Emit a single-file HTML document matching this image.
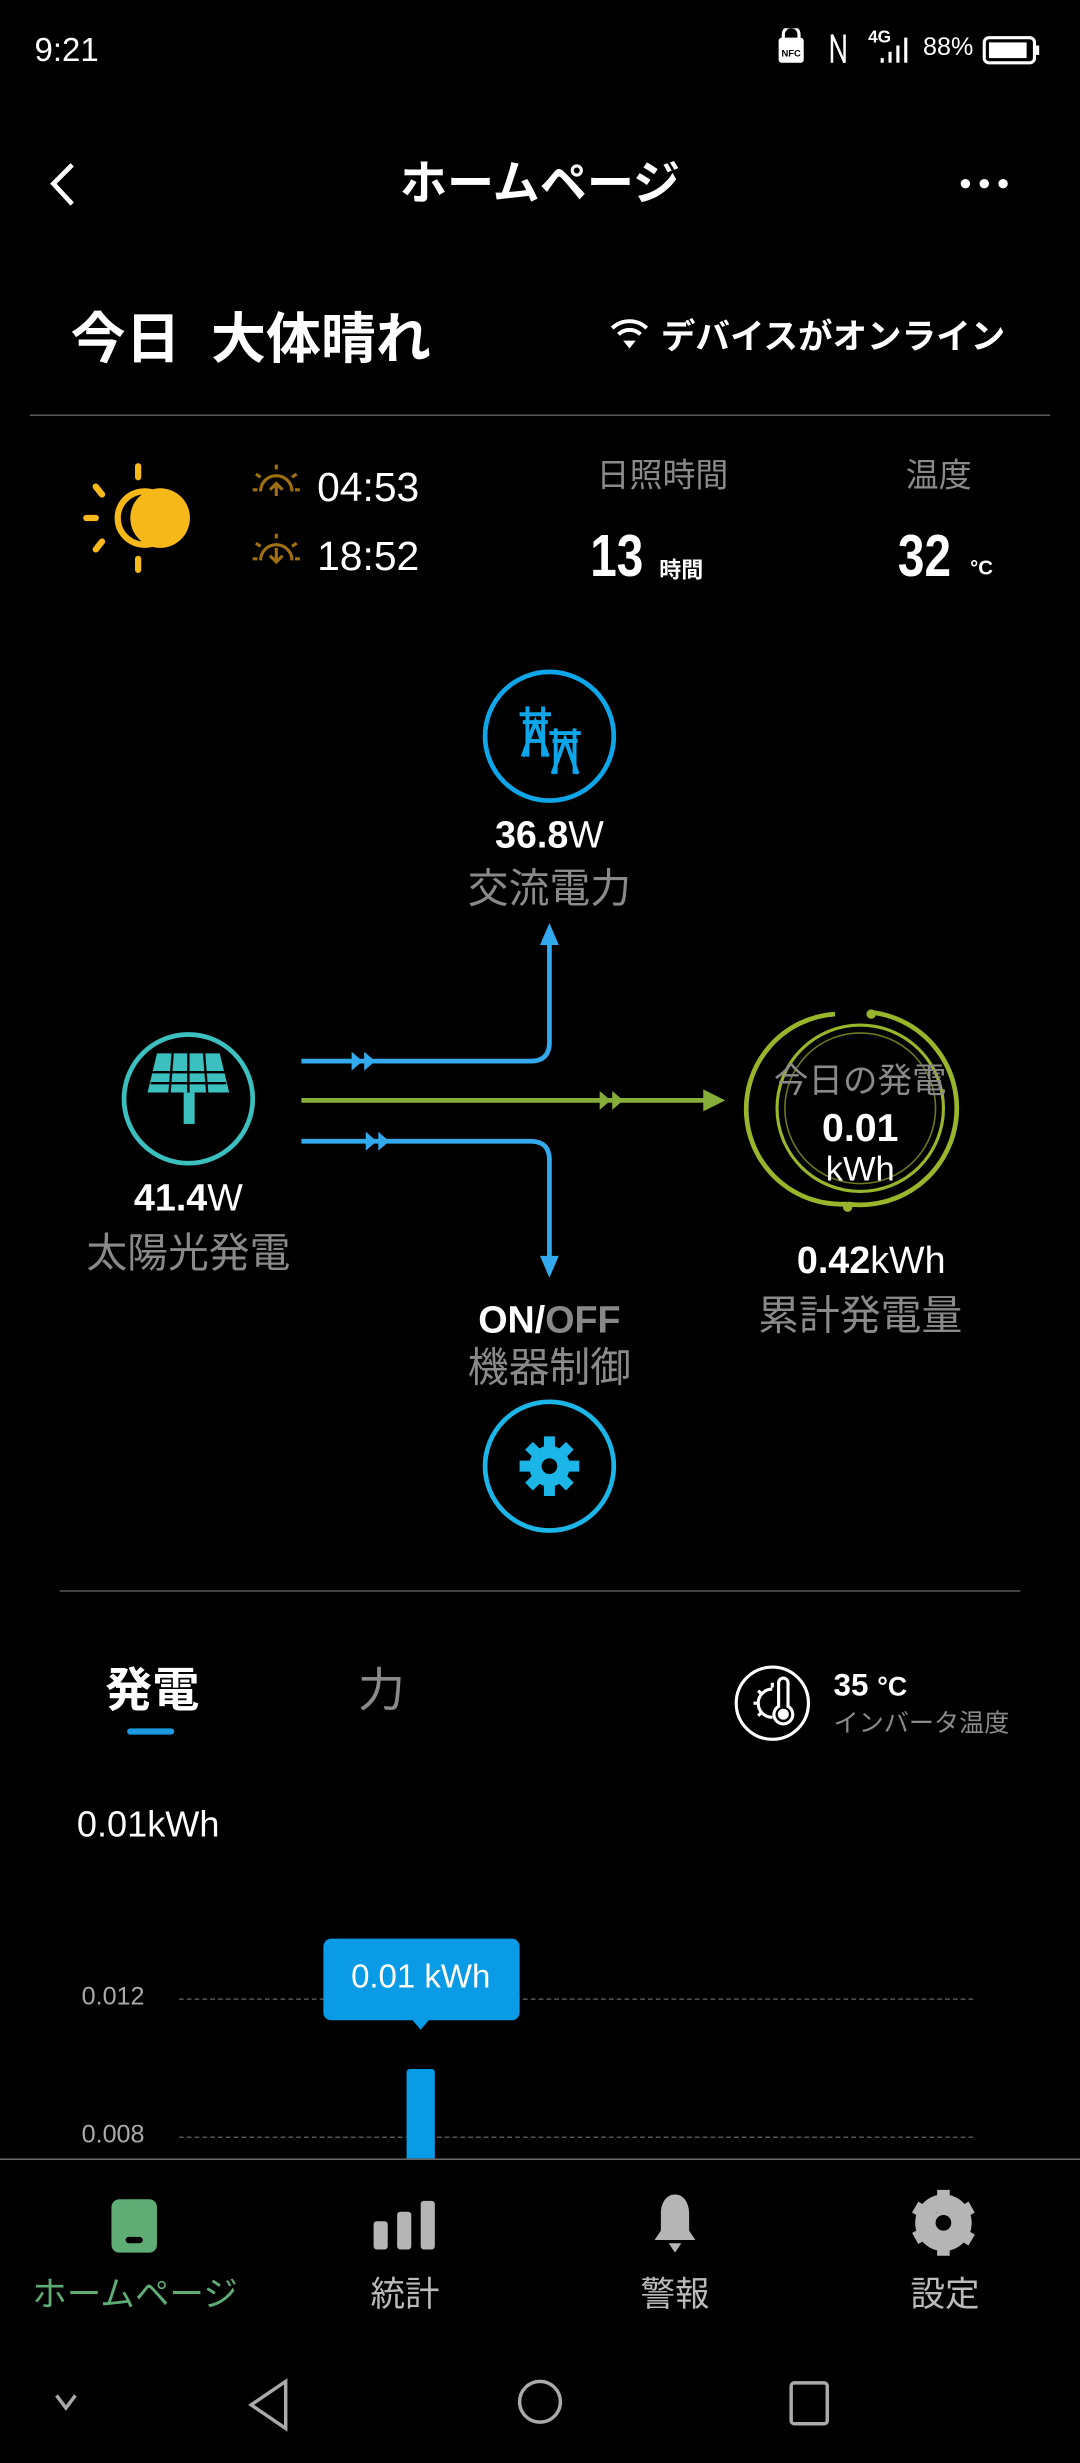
<!DOCTYPE html>
<html><head><meta charset="utf-8"><style>
html,body{margin:0;padding:0;background:#000;width:1080px;height:2460px;overflow:hidden}
#w{position:absolute;left:0;top:0;width:688px;height:1568px;transform:scale(1.56977);transform-origin:0 0;font-family:"Liberation Sans","Noto Sans CJK JP",sans-serif;color:#fff}
.a{position:absolute;white-space:nowrap;line-height:1}
.c{transform:translateX(-50%)}
.g{color:#8a8a8a}
.b{font-weight:bold}
</style></head><body><div id="w">
<div class="a" style="left:22px;top:22px;font-size:21px">9:21</div>
<div class="a" style="left:588px;top:23px;font-size:16px">88%</div>
<div class="a" style="left:553px;top:19px;font-size:11px;font-weight:bold">4G</div>
<svg class="a" style="left:494px;top:18px" width="170" height="28">
<rect x="2" y="6" width="16" height="16" rx="2" fill="#fff"/><path d="M5 7v-3a5 5 0 0 1 10 0v3" stroke="#fff" stroke-width="2" fill="none"/>
<text x="10" y="18" font-size="6" text-anchor="middle" font-family="Liberation Sans" font-weight="bold">NFC</text>
<path d="M36 4v18M36 4l8 18M44 4v18" stroke="#fff" stroke-width="1.6" fill="none"/>
<path d="M68 22v-3M73 22v-7M78 22v-11M83 22v-16" stroke="#fff" stroke-width="2"/>
<rect x="133" y="6" width="32" height="16" rx="3" stroke="#fff" stroke-width="2" fill="none"/><rect x="136" y="9" width="24" height="10" fill="#fff"/><rect x="166" y="11" width="2" height="6" fill="#fff"/>
</svg>
<svg class="a" style="left:28px;top:102px" width="24" height="32"><path d="M18 3L6 15l12 13" stroke="#fff" stroke-width="3" fill="none"/></svg>
<div class="a b c" style="left:344px;top:103px;font-size:30px">ホームページ</div>
<svg class="a" style="left:610px;top:112px" width="34" height="10" fill="#fff"><circle cx="5" cy="5" r="3"/><circle cx="17" cy="5" r="3"/><circle cx="29" cy="5" r="3"/></svg>
<div class="a b" style="left:45px;top:199px;font-size:35px">今日&nbsp;&nbsp;大体晴れ</div>
<svg class="a" style="left:388px;top:201px" width="26" height="24"><path d="M2 8a16 16 0 0 1 22 0M6 12a10 10 0 0 1 14 0" stroke="#fff" stroke-width="2.5" fill="none"/><path d="M9 16h8l-4 5z" fill="#fff"/></svg>
<div class="a b" style="left:421px;top:204px;font-size:22px">デバイスがオンライン</div>
<div class="a" style="left:19px;top:264px;width:650px;height:1px;background:#555"></div>
<svg class="a" style="left:48px;top:290px" width="80" height="80">
<g stroke="#f7b819" stroke-width="4" stroke-linecap="round"><path d="M40 7v7M40 66v7M7 40h6M13 20l4 5M13 60l4-5"/></g>
<circle cx="54" cy="40" r="19" fill="#f7b819"/><circle cx="44" cy="40" r="17" fill="none" stroke="#f7b819" stroke-width="4"/>
</svg>
<svg class="a" style="left:160px;top:294px" width="32" height="76" stroke="#a07010" fill="none" stroke-width="2">
<path d="M6 19a10 10 0 0 1 20 0M16 22v-8m-4 4l4-4 4 4M16 2v3M3 8l3 2M29 8l-3 2M1 18h3M28 18h3"/>
<path d="M6 63a10 10 0 0 1 20 0M16 55v9m-4-4l4 4 4-4M16 46v3M3 52l3 2M29 52l-3 2M1 62h3M28 62h3"/>
</svg>
<div class="a" style="left:202px;top:297px;font-size:26px">04:53</div>
<div class="a" style="left:202px;top:341px;font-size:26px">18:52</div>
<div class="a g c" style="left:422px;top:293px;font-size:21px">日照時間</div>
<div class="a g c" style="left:598px;top:293px;font-size:21px">温度</div>
<div class="a b" style="left:376px;top:336px;font-size:38px;transform:scaleX(.8);transform-origin:0 0">13</div>
<div class="a b" style="left:420px;top:356px;font-size:14px">時間</div>
<div class="a b" style="left:572px;top:336px;font-size:38px;transform:scaleX(.8);transform-origin:0 0">32</div>
<div class="a b" style="left:618px;top:355px;font-size:13px">°C</div>
<svg class="a" style="left:0;top:400px" width="688" height="600">
<circle cx="350" cy="69" r="41" fill="none" stroke="#0ea5e9" stroke-width="3"/>
<g stroke="#0ea5e9" stroke-width="2.5" fill="none"><path d="M331 55h20M333 60h16M336 50v32M346 50v32M333 82l8-22 8 22M337 72l8 0"/><path d="M350 67h20M352 72h16M354 64v29M366 64v29M352 93l8-22 8 22"/></g>
<circle cx="120" cy="300" r="41" fill="none" stroke="#3bbfbf" stroke-width="3"/>
<path d="M100 271h40l6 25h-52z" fill="#3bbfbf"/><g stroke="#000" stroke-width="1.5"><path d="M97 283h46M96 290h48M110 271l-2 25M120 271v25M130 271l2 25"/></g><rect x="117" y="296" width="7" height="20" fill="#3bbfbf"/>
<circle cx="350" cy="534" r="41" fill="none" stroke="#1cb5e8" stroke-width="3"/>
<g fill="#1cb5e8"><circle cx="350" cy="534" r="13"/><g stroke="#1cb5e8" stroke-width="7"><path d="M350 515v38M331 534h38M337 521l26 26M363 521l-26 26"/></g></g><circle cx="350" cy="534" r="5" fill="#000"/>
<path d="M192 276H338q12 0 12-12V200" stroke="#33aaee" stroke-width="3" fill="none"/><path d="M344 202l6-14 6 14z" fill="#33aaee"/>
<path d="M192 327H338q12 0 12 12V402" stroke="#33aaee" stroke-width="3" fill="none"/><path d="M344 400l6 14 6-14z" fill="#33aaee"/>
<path d="M224 270l7 6-7 6zM232 270l7 6-7 6zM233 321l7 6-7 6zM241 321l7 6-7 6z" fill="#33aaee"/>
<path d="M192 301H452" stroke="#86ad3a" stroke-width="3"/><path d="M448 294l14 7-14 7z" fill="#86ad3a"/><path d="M382 295l7 6-7 6zM390 295l7 6-7 6z" fill="#86ad3a"/>
<g fill="none" stroke="#98b52c"><path d="M532 246a60 60 0 0 0 8 121" stroke-width="3"/><path d="M556 245a61 61 0 0 1-16 122" stroke-width="3"/><circle cx="548" cy="306" r="53" stroke-width="2"/><circle cx="548" cy="306" r="48" stroke-width="1" stroke="#6a7a20"/></g>
<circle cx="555" cy="246" r="3" fill="#98b52c"/><circle cx="540" cy="369" r="3" fill="#98b52c"/>
</svg>
<div class="a b c" style="left:350px;top:521px;font-size:24px">36.8<span style="font-weight:normal">W</span></div>
<div class="a g c" style="left:350px;top:553px;font-size:26px">交流電力</div>
<div class="a b c" style="left:120px;top:752px;font-size:24px">41.4<span style="font-weight:normal">W</span></div>
<div class="a g c" style="left:120px;top:785px;font-size:26px">太陽光発電</div>
<div class="a g c" style="left:548px;top:678px;font-size:22px">今日の発電</div>
<div class="a b c" style="left:548px;top:707px;font-size:25px">0.01</div>
<div class="a c" style="left:548px;top:734px;font-size:22px">kWh</div>
<div class="a b c" style="left:555px;top:792px;font-size:24px">0.42<span style="font-weight:normal">kWh</span></div>
<div class="a g c" style="left:548px;top:825px;font-size:26px">累計発電量</div>
<div class="a b c" style="left:350px;top:830px;font-size:24px">ON/<span style="color:#888">OFF</span></div>
<div class="a g c" style="left:350px;top:858px;font-size:26px">機器制御</div>
<div class="a" style="left:38px;top:1013px;width:612px;height:1px;background:#555"></div>
<div class="a b" style="left:67px;top:1063px;font-size:30px">発電</div>
<div class="a" style="left:81px;top:1101px;width:30px;height:4px;background:#1a9ae0;border-radius:2px"></div>
<div class="a g" style="left:228px;top:1063px;font-size:30px">力</div>
<svg class="a" style="left:467px;top:1061px" width="50" height="50" stroke="#fff" fill="none" stroke-width="2"><circle cx="25" cy="24" r="23"/><path d="M25 15a9 9 0 0 0 0 18M13 24h3M16 16l2 2M16 32l2-2M25 11v3"/><path d="M29 11a3 3 0 0 1 6 0v15a6 6 0 1 1-6 0z"/><circle cx="32" cy="31" r="2.5" fill="#fff"/></svg>
<div class="a b" style="left:531px;top:1064px;font-size:20px">35 <span style="font-size:17px">°C</span></div>
<div class="a g" style="left:531px;top:1091px;font-size:16px">インバータ温度</div>
<div class="a" style="left:49px;top:1151px;font-size:23px">0.01kWh</div>
<div class="a" style="left:52px;top:1265px;font-size:16px;color:#aaa">0.012</div>
<div class="a" style="left:52px;top:1353px;font-size:16px;color:#aaa">0.008</div>
<div class="a" style="left:114px;top:1273px;width:506px;border-top:1px dashed #555"></div>
<div class="a" style="left:114px;top:1361px;width:506px;border-top:1px dashed #555"></div>
<div class="a" style="left:206px;top:1235px;width:125px;height:52px;background:#0a9be6;border-radius:5px"></div>
<div class="a c" style="left:268px;top:1249px;font-size:21px">0.01 kWh</div>
<svg class="a" style="left:262px;top:1286px" width="12" height="8"><path d="M0 0h12l-6 7z" fill="#0a9be6"/></svg>
<div class="a" style="left:259px;top:1318px;width:18px;height:60px;background:#0a9be6;border-radius:2px 2px 0 0"></div>
<div class="a" style="left:0;top:1375px;width:688px;height:193px;background:#000;border-top:1px solid #666"></div>
<div class="a" style="left:71px;top:1401px;width:29px;height:34px;background:#5fac75;border-radius:5px"></div>
<div class="a" style="left:80px;top:1425px;width:11px;height:4px;background:#000;border-radius:2px"></div>
<svg class="a" style="left:236px;top:1400px" width="44" height="36" fill="#b5b5b5"><rect x="2" y="15" width="9" height="18" rx="2"/><rect x="17" y="9" width="9" height="24" rx="2"/><rect x="32" y="2" width="9" height="31" rx="2"/></svg>
<svg class="a" style="left:410px;top:1396px" width="40" height="42" fill="#b5b5b5"><path d="M20 2c-6 0-9 6-9 12v11l-4 6h26l-4-6V14c0-6-3-12-9-12z"/><path d="M16 33h8l-4 6z"/></svg>
<svg class="a" style="left:578px;top:1393px" width="46" height="46"><circle cx="23" cy="23" r="13" fill="none" stroke="#b5b5b5" stroke-width="10"/><g stroke="#b5b5b5" stroke-width="8"><path d="M23 2v42M5 13l36 21M5 33l36-20"/></g><circle cx="23" cy="23" r="5" fill="#000"/></svg>
<div class="a c" style="left:86px;top:1451px;font-size:22px;color:#5fac75">ホームページ</div>
<div class="a c" style="left:258px;top:1451px;font-size:22px;color:#bbb">統計</div>
<div class="a c" style="left:430px;top:1451px;font-size:22px;color:#bbb">警報</div>
<div class="a c" style="left:602px;top:1451px;font-size:22px;color:#bbb">設定</div>
<svg class="a" style="left:0;top:1505px" width="688" height="50" fill="none" stroke="#aaa" stroke-width="2.2">
<path d="M36 21l6 8 6-8"/><path d="M182 12v30l-22-15z"/><circle cx="344" cy="25" r="13"/><rect x="504" y="13" width="23" height="26" rx="2"/>
</svg>
</div></body></html>
